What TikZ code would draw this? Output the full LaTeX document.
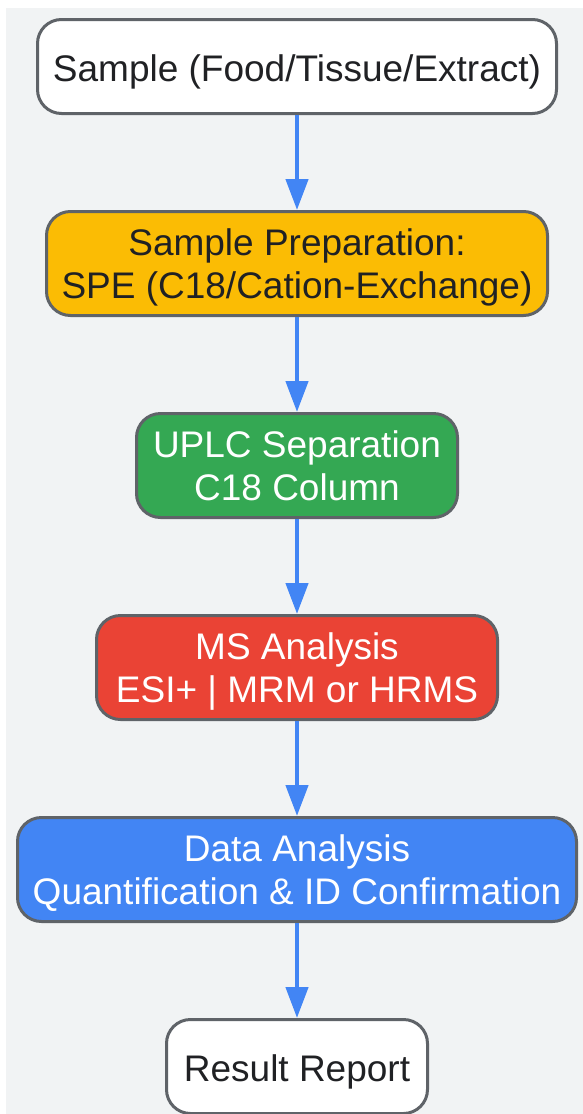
\documentclass[tikz,border=0pt]{standalone}
\usepackage{fontspec}
\setmainfont{Liberation Sans}
\usepackage{tikz}
\usetikzlibrary{positioning,arrows.meta}
\definecolor{bgcol}{HTML}{F1F3F4}
\definecolor{edgecol}{HTML}{5F6368}
\definecolor{textcol}{HTML}{202124}
\definecolor{prepcol}{HTML}{FBBC04}
\definecolor{uplccol}{HTML}{34A853}
\definecolor{mscol}{HTML}{EA4335}
\definecolor{datacol}{HTML}{4285F4}
\tikzset{
  flow box/.style={
    rectangle, rounded corners=24pt,
    draw=edgecol, line width=3pt,
    text=textcol, align=center,
    font=\fontsize{37}{43}\selectfont,
    minimum width={#1pt},
    inner sep=0pt,
  },
  one line/.style={minimum height=94pt, text height=30pt, text depth=0.6pt},
  two line/.style={minimum height=104pt, text depth=0pt},
  flow arrow/.style={
    draw=datacol, line width=4.5pt,
    -{Triangle[width=22pt,length=31pt]},
  }
}

\begin{document}
\begin{tikzpicture}[x=1pt, y=-1pt, node distance=95pt]
  \useasboundingbox (0,0) rectangle (583,1114);
  \fill [bgcol] (6,8) rectangle (583,1114);

  \node [flow box=519, one line, fill=white] (sample) at (297,66.5) {Sample (Food/Tissue/Extract)};
  \node [flow box=501, two line, fill=prepcol, below=of sample] (prep) {Sample Preparation:\\SPE (C18/Cation-Exchange)};
  \node [flow box=321, two line, fill=uplccol, text=white, below=of prep] (uplc) {UPLC Separation\\C18 Column};
  \node [flow box=401, two line, fill=mscol, text=white, below=of uplc] (ms) {MS Analysis\\ESI+ | MRM or HRMS};
  \node [flow box=559, two line, fill=datacol, text=white, below=of ms] (data) {Data Analysis\\Quantification \& ID Confirmation};
  \node [flow box=261, one line, fill=white, below=of data] (report) {Result Report};

  \draw [flow arrow] (sample.south) -- (prep.north);
  \draw [flow arrow] (prep.south) -- (uplc.north);
  \draw [flow arrow] (uplc.south) -- (ms.north);
  \draw [flow arrow] (ms.south) -- (data.north);
  \draw [flow arrow] (data.south) -- (report.north);
\end{tikzpicture}
\end{document}
